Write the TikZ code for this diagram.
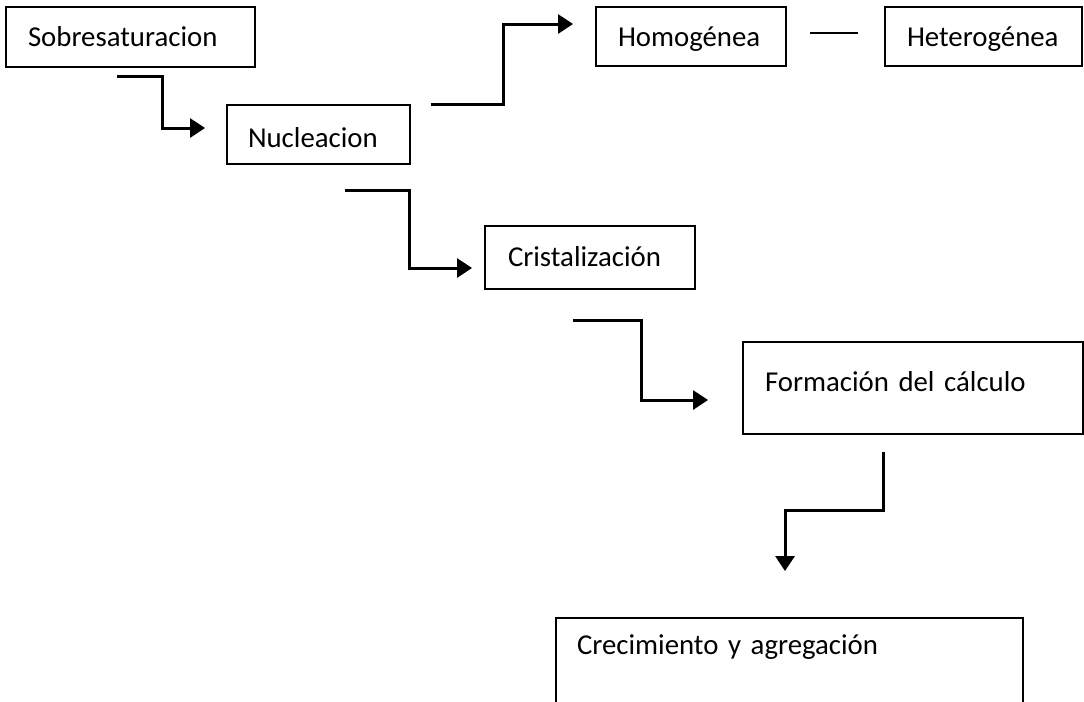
\documentclass[tikz,border=0pt]{standalone}
\usepackage{fontspec}
\setmainfont{Carlito}[WordSpace={0.8,0,0}]
\usepackage{tikz}
\usetikzlibrary{arrows.meta, positioning, calc}
\tikzset{
  block/.style={rectangle, draw=black, anchor=north west, align=left,
    inner ysep=0pt, font=\fontsize{14.4}{17}\selectfont, line width=1pt},
  arrow/.style={-{Triangle[length=7.5pt,width=9.5pt]}, line width=1.5pt, color=black},
  thinline/.style={line width=0.7pt, color=black}
}

\begin{document}
\begin{tikzpicture}[x=0.5pt, y=-0.5pt]
  \useasboundingbox (0,0) rectangle (1084,702);
  \clip (0,0) rectangle (1084,702);

  % Boxes
  \node[block, text width=102.5pt, inner xsep=11pt, text height=19.5pt, text depth=10.5pt] (sob) at (5,6) {Sobresaturacion};
  \node[block, text width=70.5pt, inner xsep=10.5pt, text height=21pt, text depth=8.5pt] (nuc) at (226,104) {Nucleacion};
  \node[block, text width=73pt, inner xsep=11pt, text height=19.5pt, text depth=10pt] (hom) at (595,6) {Homogénea};
  \node[block, text width=76.5pt, inner xsep=11pt, text height=19.5pt, text depth=10pt] (het) at (884,6) {Heterogénea};
  \node[block, text width=82pt, inner xsep=11.5pt, text height=20pt, text depth=11.5pt] (cri) at (484,225) {Cristalización};
  \node[block, text width=148pt, inner xsep=11pt, text height=24.5pt, text depth=21.5pt] (for) at (742,341) {Formación del cálculo};
  \node[block, text width=212.5pt, inner xsep=10.5pt, text height=18pt, text depth=43.5pt] (cre) at (555,617) {Crecimiento y agregación};

  % Free ends of the connectors
  \coordinate (a1s) at (117,76);
  \coordinate (a1e) at (205,128);
  \coordinate (a2s) at (431,104);
  \coordinate (a2e) at (573,24);
  \coordinate (a3s) at (345,190);
  \coordinate (a3e) at (472,268);
  \coordinate (a4s) at (573,320);
  \coordinate (a4e) at (708,400);
  \coordinate (a5s) at (883,452);
  \coordinate (a5e) at (785,571);
  \coordinate (ls) at (810,33);
  \coordinate (le) at (858,33);

  % Connectors
  \draw[arrow] (a1s) -- ++(45,0) |- (a1e);
  \draw[arrow] (a2s) -- ++(72,0) |- (a2e);
  \draw[arrow] (a3s) -- ++(64,0) |- (a3e);
  \draw[arrow] (a4s) -- ++(68,0) |- (a4e);
  \draw[arrow] (a5s) -- ++(0,58) -| (a5e);
  \draw[thinline] (ls) -- (le);
\end{tikzpicture}
\end{document}
